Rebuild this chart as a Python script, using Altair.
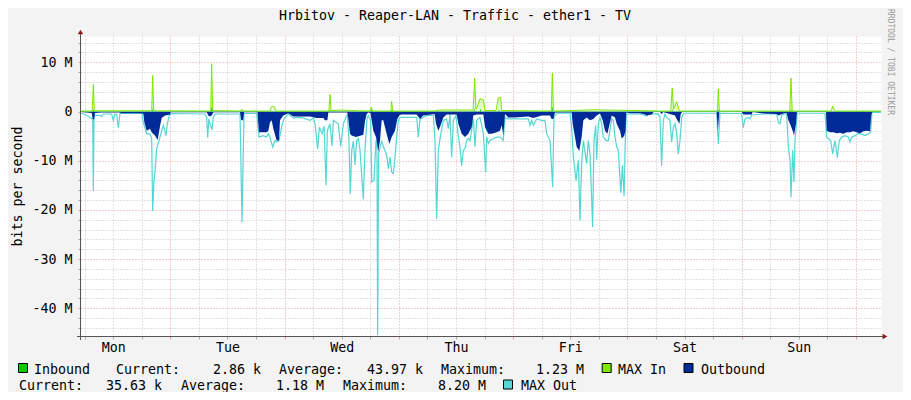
import json
import pandas as pd
import altair as alt

FONT = "DejaVu Sans Mono"

title_text = "Hrbitov - Reaper-LAN - Traffic - ether1 - TV"
y_title = "bits per second"
credit = "RRDTOOL / TOBI OETIKER"
days = ["Mon", "Tue", "Wed", "Thu", "Fri", "Sat", "Sun"]

# (hours since Monday 00:00, Mbit/s)
inbound = [
    (5.25, 0.03),
    (7.7, 0.03), (7.84, 0.4), (8.0, 0.03),
    (20.2, 0.03), (20.3, 0.6), (20.45, 0.03),
    (32.55, 0.03), (32.69, 1.0), (32.85, 0.03),
    (57.4, 0.03), (57.54, 0.3), (57.7, 0.03),
    (66.1, 0.03), (66.2, 0.5), (66.4, 0.03),
    (70.4, 0.03), (70.5, 0.4), (70.65, 0.03),
    (87.8, 0.03), (87.92, 0.6), (88.05, 0.03),
    (89.0, 0.03), (89.1, 0.6), (89.3, 0.03),
    (92.9, 0.03), (93.0, 0.5), (93.2, 0.03),
    (104.1, 0.03), (104.23, 1.23), (104.35, 0.03),
    (129.3, 0.03), (129.4, 0.5), (129.55, 0.03),
    (139.0, 0.03), (139.09, 0.4), (139.2, 0.03),
    (154.25, 0.03), (154.35, 0.6), (154.45, 0.03),
    (173.25, 0.03),
]

max_in = [
    (5.25, 0.1), (7.6, 0.1), (7.84, 5.5), (8.05, 0.15), (20.1, 0.15), (20.3, 7.3),
    (20.5, 0.3), (21.0, 0.15), (32.5, 0.1), (32.69, 9.7), (32.9, 0.2), (38.8, 0.1),
    (39.0, 0.5), (39.2, 0.1), (45.0, 0.1), (45.2, 0.9), (45.5, 1.1), (45.9, 0.9),
    (46.1, 0.1), (57.3, 0.1), (57.54, 3.5), (57.75, 0.2), (60.0, 0.3), (63.5, 0.15),
    (65.9, 0.1), (66.2, 0.9), (66.5, 0.1), (70.3, 0.1), (70.49, 2.1), (70.7, 0.1),
    (79.5, 0.1), (80.5, 0.3), (84.2, 0.3), (87.6, 0.3), (87.92, 6.8), (88.2, 0.5),
    (88.69, 1.5), (89.04, 2.6), (89.74, 2.4), (90.09, 0.2), (92.4, 0.2), (92.54, 0.9),
    (92.89, 2.8), (93.38, 2.8), (93.59, 0.2), (104.0, 0.1), (104.23, 7.8), (104.45, 0.3),
    (104.8, 0.1), (113.0, 0.35), (126.9, 0.1), (129.1, 0.1), (129.4, 4.8), (129.7, 0.5),
    (130.34, 2.0), (130.69, 0.9), (130.9, 0.1), (138.9, 0.1), (139.09, 4.6), (139.3, 0.1),
    (154.1, 0.1), (154.35, 6.8), (154.6, 0.1), (162.8, 0.1), (163.1, 1.1), (163.5, 0.2),
    (163.7, 0.1), (173.25, 0.1),
]

outbound = [
    (5.25, -0.1), (7.5, -0.3), (7.7, -1.5), (7.98, -1.6), (8.2, -0.3), (9.5, -0.2),
    (13.44, -0.2), (13.6, -0.35), (18.0, -0.35), (18.34, -0.5), (18.55, -2.2), (19.04, -3.9),
    (19.74, -3.5), (20.09, -4.2), (20.79, -4.9), (21.35, -5.8), (21.84, -3.0), (22.19, -1.3),
    (22.89, -0.8), (23.94, -0.6), (24.1, -0.15), (31.64, -0.15), (31.99, -0.8), (32.3, -1.0),
    (32.7, -0.8), (33.04, -0.15), (38.64, -0.15), (38.9, -1.8), (39.3, -1.8), (39.5, -0.15),
    (42.3, -0.15), (42.63, -4.2), (44.24, -4.2), (44.59, -3.9), (44.94, -2.2), (45.29, -1.8),
    (45.64, -3.5), (46.34, -5.9), (46.83, -5.9), (47.04, -1.8), (47.74, -0.8), (48.79, -0.35),
    (49.84, -1.0), (53.34, -1.0), (54.74, -1.3), (56.14, -1.3), (56.49, -1.8), (56.98, -1.8),
    (57.2, -0.2), (61.2, -0.2), (61.39, -1.5), (61.74, -4.5), (62.09, -4.9), (63.0, -5.2),
    (63.7, -5.0), (64.54, -4.7), (64.89, -2.0), (65.24, -0.5), (65.59, -0.2), (66.0, -0.3),
    (66.29, -1.8), (66.64, -3.9), (67.2, -5.2), (67.69, -8.2), (68.04, -5.9), (68.39, -1.8),
    (68.74, -1.8), (69.09, -3.2), (69.44, -4.5), (70.0, -6.6), (70.49, -5.2), (71.19, -3.9),
    (71.68, -1.5), (72.1, -0.8), (72.5, -0.6), (75.74, -0.6), (76.44, -1.5), (77.14, -0.8),
    (79.5, -0.5), (79.8, -2.5), (80.29, -3.9), (80.78, -2.8), (81.34, -1.2), (82.04, -0.6),
    (84.14, -0.6), (84.49, -2.5), (85.19, -4.5), (85.89, -5.2), (86.59, -4.5), (87.29, -3.2),
    (87.64, -0.8), (88.34, -0.6), (89.74, -0.6), (90.09, -3.2), (90.79, -4.5), (91.49, -4.5),
    (92.54, -4.2), (93.24, -3.9), (93.59, -2.8), (93.94, -4.9), (94.29, -0.5), (94.99, -1.2),
    (96.39, -1.2), (99.19, -1.0), (100.24, -1.3), (102.0, -0.8), (103.74, -0.8), (104.09, -1.5),
    (104.44, -1.5), (104.79, -0.2), (108.29, -0.2), (108.5, -2.5), (108.99, -5.2), (109.34, -7.2),
    (109.9, -8.0), (110.39, -5.2), (110.74, -1.8), (111.44, -1.2), (112.14, -1.8), (112.84, -1.5),
    (113.54, -0.8), (114.24, -0.4), (114.8, -1.8), (115.29, -3.9), (115.78, -4.5), (116.2, -2.8),
    (116.69, -0.8), (117.39, -1.2), (117.74, -2.5), (118.44, -3.9), (118.8, -5.5), (119.3, -5.0),
    (119.6, -4.0), (119.75, -0.2), (120.54, -0.35), (122.64, -0.35), (123.69, -0.6), (124.04, -0.8),
    (125.09, -0.6), (125.5, -0.1), (126.84, -0.1), (127.19, -0.5), (127.5, -0.1), (128.94, -0.5),
    (129.99, -0.8), (130.34, -1.5), (130.9, -2.5), (131.2, -0.5), (131.5, -0.1), (138.74, -0.1),
    (139.0, -3.9), (139.3, -0.1), (143.99, -0.1), (144.34, -0.6), (146.09, -0.6), (146.3, -0.1),
    (148.54, -0.4), (151.34, -0.5), (151.69, -0.8), (152.74, -0.4), (153.44, -0.3), (153.79, -1.8),
    (154.14, -2.5), (154.7, -3.9), (154.98, -4.9), (155.4, -2.5), (155.6, -0.1), (161.7, -0.1),
    (161.84, -3.9), (162.54, -4.2), (163.24, -4.2), (163.94, -4.4), (164.64, -4.3), (165.34, -4.5),
    (166.04, -4.2), (166.74, -4.2), (167.44, -4.0), (168.14, -4.2), (168.84, -4.4), (169.54, -4.0),
    (170.24, -3.9), (170.94, -4.0), (171.2, -0.8), (171.4, -0.1), (173.25, -0.1),
]

max_out = [
    (5.25, -0.3), (6.5, -0.8), (7.14, -1.2), (7.7, -1.5), (7.84, -16.2), (7.98, -1.5),
    (8.19, -0.8), (9.24, -0.8), (9.59, -1.0), (9.94, -0.5), (11.69, -0.5), (12.04, -1.8),
    (12.39, -0.5), (12.74, -0.6), (13.09, -3.3), (13.44, -0.4), (18.0, -0.4), (18.34, -2.2),
    (19.04, -4.5), (19.74, -4.6), (20.09, -5.5), (20.3, -20.2), (20.58, -14.0), (20.79, -12.3),
    (21.14, -7.6), (21.84, -5.2), (22.19, -3.9), (22.54, -2.8), (23.1, -4.9), (23.38, -2.5),
    (23.8, -0.8), (24.3, -0.4), (31.29, -0.5), (31.64, -1.2), (31.85, -5.3), (32.1, -1.5),
    (32.34, -2.5), (32.76, -3.7), (33.04, -1.1), (33.39, -0.5), (38.64, -0.5), (39.06, -22.5),
    (39.48, -0.4), (42.14, -0.4), (42.63, -5.2), (43.5, -4.9), (44.24, -5.2), (44.59, -4.5),
    (44.94, -5.2), (45.5, -7.2), (45.99, -5.9), (46.34, -6.2), (46.83, -5.9), (47.25, -3.9),
    (47.6, -2.2), (48.09, -1.2), (48.79, -0.5), (49.84, -1.3), (51.5, -1.2), (53.34, -1.8),
    (54.04, -1.3), (54.39, -2.5), (54.95, -7.6), (55.3, -3.2), (55.86, -4.5), (56.3, -3.0),
    (56.7, -15.0), (56.98, -3.9), (57.54, -2.5), (57.96, -7.0), (58.24, -1.8), (59.29, -2.5),
    (59.78, -7.1), (60.34, -2.5), (61.04, -0.8), (61.2, -0.6), (61.5, -5.5), (61.8, -16.7),
    (62.1, -8.0), (62.44, -6.0), (62.79, -10.8), (63.14, -5.9), (63.5, -5.5), (63.84, -7.9),
    (64.54, -17.9), (64.89, -7.9), (65.3, -1.5), (65.59, -0.8), (66.08, -1.8), (66.29, -14.3),
    (66.78, -14.0), (67.2, -5.9), (67.4, -6.5), (67.55, -45.5), (67.75, -8.6), (68.39, -5.9),
    (68.74, -7.2), (69.09, -7.9), (69.44, -8.9), (69.79, -11.6), (70.14, -9.3), (70.49, -12.3),
    (70.84, -12.6), (71.19, -9.3), (71.54, -5.2), (71.89, -1.8), (72.24, -1.2), (75.74, -1.2),
    (76.09, -5.2), (76.44, -1.5), (77.14, -1.2), (77.84, -0.8), (79.24, -0.8), (79.59, -5.9),
    (79.94, -21.8), (80.29, -7.9), (80.64, -5.5), (81.34, -1.8), (82.04, -1.5), (82.39, -3.5),
    (82.74, -0.5), (83.09, -9.3), (83.44, -1.8), (84.0, -0.8), (84.49, -5.2), (84.84, -7.2),
    (85.19, -11.0), (85.54, -7.9), (85.89, -7.6), (86.24, -5.9), (86.59, -5.5), (86.94, -5.9),
    (87.64, -1.5), (87.99, -7.2), (88.34, -1.8), (89.04, -1.2), (89.74, -4.5), (90.23, -12.3),
    (90.44, -5.2), (90.79, -6.5), (91.14, -5.9), (91.84, -5.5), (92.54, -5.2), (93.24, -5.2),
    (93.59, -5.5), (93.94, -5.9), (94.29, -1.2), (94.99, -1.5), (99.19, -1.5), (99.54, -2.8),
    (99.89, -1.8), (100.24, -2.8), (100.94, -1.5), (101.99, -1.8), (102.69, -1.8), (103.04, -4.5),
    (103.74, -5.9), (104.3, -15.4), (104.58, -1.2), (105.14, -0.35), (107.94, -0.35), (108.29, -3.2),
    (108.64, -9.3), (109.2, -14.0), (109.69, -9.9), (110.04, -22.1), (110.39, -10.6), (110.74, -5.9),
    (111.44, -10.6), (111.79, -5.9), (112.14, -8.6), (112.7, -23.5), (112.98, -5.9), (113.33, -2.8),
    (113.54, -9.8), (113.89, -2.5), (114.24, -1.2), (114.59, -2.5), (114.94, -5.2), (115.5, -5.9),
    (115.99, -5.9), (116.69, -1.5), (117.04, -1.8), (117.39, -5.2), (117.74, -7.2), (118.09, -7.9),
    (118.6, -16.5), (118.95, -11.0), (119.3, -17.2), (119.55, -6.0), (119.75, -0.5), (120.54, -0.5),
    (122.64, -0.5), (123.69, -0.8), (124.04, -0.9), (124.39, -0.5), (126.49, -0.45), (126.84, -1.2),
    (127.19, -11.0), (127.54, -1.8), (127.89, -0.5), (128.24, -1.2), (128.94, -1.8), (129.29, -6.2),
    (129.64, -3.2), (129.99, -2.5), (130.34, -4.5), (130.69, -8.6), (131.04, -5.9), (131.39, -1.2),
    (131.8, -0.35), (138.74, -0.35), (139.09, -6.6), (139.44, -0.35), (143.99, -0.4), (144.34, -3.3),
    (144.69, -1.5), (145.39, -1.2), (145.74, -1.5), (146.09, -0.7), (148.54, -0.5), (151.34, -0.5),
    (151.69, -2.2), (152.04, -2.5), (152.39, -0.8), (152.74, -0.5), (153.44, -0.5), (153.79, -7.2),
    (154.14, -9.9), (154.35, -17.4), (154.7, -7.9), (154.98, -14.3), (155.19, -5.9), (155.45, -3.0),
    (155.65, -0.35), (161.49, -0.35), (161.84, -5.2), (162.19, -5.5), (162.68, -5.9), (163.1, -8.6),
    (163.59, -5.9), (164.08, -9.4), (164.5, -5.9), (164.99, -5.2), (165.69, -4.9), (166.39, -5.2),
    (166.74, -6.2), (167.09, -5.2), (167.79, -4.9), (168.49, -4.4), (169.19, -4.6), (169.89, -4.9),
    (170.59, -4.5), (171.08, -4.2), (171.35, -0.2), (173.25, -0.2),
]

legend_line1 = ["Inbound", "Current:", "2.86 k", "Average:", "43.97 k", "Maximum:", "1.23 M", "MAX In", "Outbound"]
legend_line2 = ["Current:", "35.63 k", "Average:", "1.18 M", "Maximum:", "8.20 M", "MAX Out"]

# ---- colours / layout ----
C_IN = "#00cc00"
C_MAXIN = "#7ce800"
C_OUT = "#002a97"
C_MAXOUT = "#55d6d3"
GRID_MINOR = "#c4c4c4"
GRID_MAJOR = "#ef9a9a"

legend_x1 = [-47, 35, 132, 198, 286, 360, 455, 537, 620]
legend_x2 = [-62, 25, 100, 195, 262, 357, 440]
LEG_Y1, LEG_Y2 = 337.5, 353.5

x_scale = alt.Scale(domain=[5.25, 173.25], nice=False, zero=False)
y_scale = alt.Scale(domain=[-45.63, 15.35], nice=False, zero=False)

x_ticks = list(range(6, 169, 6))
y_ticks = list(range(-44, 15, 2))

day_expr = "datum.value % 24 == 12 ? " + json.dumps(days) + "[floor(datum.value / 24)] : ''"
y_expr = "datum.value % 10 == 0 ? (datum.value == 0 ? '0' : datum.value + ' M') : ''"

x_axis = alt.Axis(
    values=x_ticks, title=None, domain=False, labelExpr=day_expr, labelOverlap=False,
    labelFont=FONT, labelFontSize=13.3, labelColor="black", labelBaseline="alphabetic",
    labelPadding=12.7, labelAlign="center", labelFlush=False,
    tickSize=3,
    tickColor={"condition": {"test": "datum.value % 24 == 0", "value": GRID_MAJOR}, "value": "#aaaaaa"},
    grid=True,
    gridColor={"condition": {"test": "datum.value % 24 == 0", "value": GRID_MAJOR}, "value": GRID_MINOR},
    gridDash=[1, 2], gridWidth=1,
)
y_axis = alt.Axis(
    values=y_ticks, domain=False, labelExpr=y_expr, labelOverlap=False,
    labelFont=FONT, labelFontSize=13.3, labelColor="black", labelBaseline="middle",
    labelPadding=6, labelAlign="right", labelFlush=False,
    tickSize=3,
    tickColor={"condition": {"test": "datum.value % 10 == 0", "value": GRID_MAJOR}, "value": "#aaaaaa"},
    grid=True,
    gridColor={"condition": {"test": "datum.value % 10 == 0", "value": GRID_MAJOR}, "value": GRID_MINOR},
    gridDash=[1, 2], gridWidth=1,
    title=y_title, titleFont=FONT, titleFontSize=13.3, titleFontWeight="normal", titleColor="black",
    titleX=-64, titleY=150, titleAngle=270, titleAlign="center", titleBaseline="middle",
)

X = alt.X("h:Q", scale=x_scale, axis=x_axis)
Y = alt.Y("v:Q", scale=y_scale, axis=y_axis, stack=None)

df_in = pd.DataFrame(inbound, columns=["h", "v"])
df_maxin = pd.DataFrame(max_in, columns=["h", "v"])
df_out = pd.DataFrame(outbound, columns=["h", "v"])
df_maxout = pd.DataFrame(max_out, columns=["h", "v"])

maxout_fill = alt.Gradient(
    gradient="linear",
    stops=[alt.GradientStop(color="#ffffff", offset=0),
           alt.GradientStop(color="#e6f9f9", offset=0.3),
           alt.GradientStop(color="#7fe0dd", offset=1)],
    x1=0, x2=0, y1=0, y2=1,
)
maxin_fill = alt.Gradient(
    gradient="linear",
    stops=[alt.GradientStop(color="#92ec2c", offset=0),
           alt.GradientStop(color="#e2f9c6", offset=1)],
    x1=0, x2=0, y1=0, y2=1,
)

layer_maxout = alt.Chart(df_maxout).mark_area(
    color=maxout_fill, interpolate="linear",
    line={"color": C_MAXOUT, "strokeWidth": 1.2},
).encode(x=X, y=Y)
layer_out = alt.Chart(df_out).mark_area(color=C_OUT, interpolate="linear").encode(x=X, y=Y)
layer_maxin = alt.Chart(df_maxin).mark_area(
    color=maxin_fill, interpolate="linear",
    line={"color": C_MAXIN, "strokeWidth": 1},
).encode(x=X, y=Y)
layer_in = alt.Chart(df_in).mark_area(color=C_IN, interpolate="linear").encode(x=X, y=Y)

one = pd.DataFrame({"k": [0]})


def label(text, x, y, size=13.3, color="black", align="left", baseline="alphabetic", angle=0):
    return alt.Chart(one).mark_text(
        text=text, font=FONT, fontSize=size, color=color, align=align,
        baseline=baseline, angle=angle,
    ).encode(x=alt.value(x), y=alt.value(y))


def box(color, x, y):
    return alt.Chart(one).mark_square(
        size=81, filled=True, color=color, stroke="black", strokeWidth=1, opacity=1,
    ).encode(x=alt.value(x), y=alt.value(y))


axis_y_line = alt.Chart(one).mark_rule(color="#555555", strokeWidth=1).encode(
    x=alt.value(-0.5), y=alt.value(-3), y2=alt.value(304))
axis_x_line = alt.Chart(one).mark_rule(color="#555555", strokeWidth=1).encode(
    x=alt.value(-4), x2=alt.value(803), y=alt.value(300.5))
arrow_up = alt.Chart(one).mark_point(shape="triangle-up", filled=True, size=30, color="#8b1a1a", opacity=1).encode(
    x=alt.value(-0.5), y=alt.value(-4))
arrow_right = alt.Chart(one).mark_point(shape="triangle-right", filled=True, size=30, color="#8b1a1a", opacity=1).encode(
    x=alt.value(804), y=alt.value(300.5))

texts = [label(title_text, 374, -16, align="center"),
         label(credit, 809, 26, size=8, color="#9a9a9a", align="center", baseline="middle", angle=90)]
texts += [label(t, x, LEG_Y1) for t, x in zip(legend_line1, legend_x1)]
texts += [label(t, x, LEG_Y2) for t, x in zip(legend_line2, legend_x2)]

boxes = [box(C_IN, -58, 332), box(C_MAXIN, 525.7, 332), box(C_OUT, 607.5, 332), box(C_MAXOUT, 427, 348.5)]

chart = alt.layer(
    layer_maxout, layer_out, layer_maxin, layer_in,
    axis_y_line, axis_x_line, arrow_up, arrow_right,
    *texts, *boxes,
).properties(
    width=800, height=300,
    padding={"left": 73, "top": 28, "right": 22, "bottom": 56},
    autosize=alt.AutoSizeParams(type="none"),
    background="#f3f3f3",
).configure_view(fill="white", stroke="transparent")

chart.save("out.html", embed_options={"renderer": "svg", "actions": False})
